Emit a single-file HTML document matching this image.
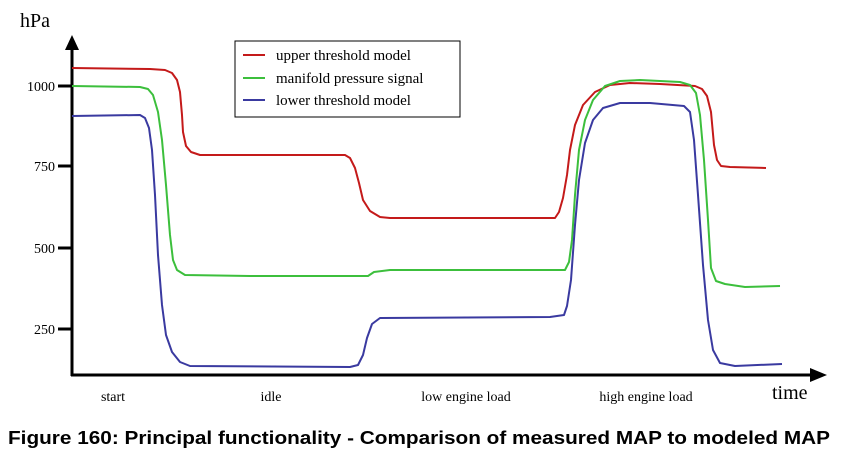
<!DOCTYPE html><html><head><style>body{margin:0;background:#fff}svg{display:block}</style></head><body>
<svg width="844" height="462" xmlns="http://www.w3.org/2000/svg" font-family="Liberation Serif, serif">
<rect width="844" height="462" fill="#fff"/>
<line x1="72" y1="48" x2="72" y2="376" stroke="#000" stroke-width="3"/>
<polygon points="72,35 65,50 79,50" fill="#000"/>
<line x1="71" y1="375" x2="812" y2="375" stroke="#000" stroke-width="3"/>
<polygon points="827,375 810,368 810,382" fill="#000"/>
<g stroke="#000" stroke-width="3"><line x1="58" y1="86" x2="72" y2="86"/><line x1="58" y1="166" x2="72" y2="166"/><line x1="58" y1="248" x2="72" y2="248"/><line x1="58" y1="329" x2="72" y2="329"/></g>
<g font-size="14" text-anchor="end"><text x="55" y="91">1000</text><text x="55" y="171">750</text><text x="55" y="253">500</text><text x="55" y="334">250</text></g>
<text x="20" y="27" font-size="20">hPa</text>
<g fill="none" stroke-width="2" stroke-linejoin="round">
<polyline stroke="#c41a1a" points="72,68 150,69 165,70 172,73 177,80 180,92 182,115 183,132 186,146 191,152 200,155 345,155 350,158 355,168 359,183 363,200 370,211 380,217 390,218 555,218 559,212 563,198 567,175 570,150 575,125 583,105 595,92 610,85 630,83 660,84 695,86 702,89 707,96 711,112 714,145 717,160 721,166 730,167 766,168"/>
<polyline stroke="#3cbf3c" points="72,86 140,87 148,89 153,95 158,112 162,140 166,185 170,235 173,260 177,270 185,275 250,276 368,276 374,272 390,270 565,270 569,262 572,240 575,195 579,150 585,120 593,100 605,86 620,81 640,80 680,82 690,85 696,93 700,115 704,160 708,220 711,268 716,281 725,284 745,287 780,286"/>
<polyline stroke="#3a3aa0" points="72,116 140,115 145,118 149,128 152,150 155,195 158,255 162,305 166,335 172,352 180,362 190,366 350,367 358,365 363,355 367,338 372,324 380,318 550,317 564,315 567,306 571,280 575,225 579,180 585,143 593,120 603,108 620,103 650,103 684,106 690,112 694,140 698,195 703,265 708,320 713,350 720,363 735,366 782,364"/>
</g>
<rect x="235" y="41" width="225" height="76" fill="#fff" stroke="#000" stroke-width="1"/>
<g stroke-width="2"><line x1="243" y1="55" x2="265" y2="55" stroke="#c41a1a"/><line x1="243" y1="78" x2="265" y2="78" stroke="#3cbf3c"/><line x1="243" y1="100" x2="265" y2="100" stroke="#3a3aa0"/></g>
<g font-size="15"><text x="276" y="60">upper threshold model</text><text x="276" y="83">manifold pressure signal</text><text x="276" y="105">lower threshold model</text></g>
<g font-size="14" text-anchor="middle"><text x="113" y="401">start</text><text x="271" y="401">idle</text><text x="466" y="401">low engine load</text><text x="646" y="401">high engine load</text></g>
<text x="772" y="399" font-size="20">time</text>
<text x="8" y="444" font-family="Liberation Sans, sans-serif" font-weight="bold" font-size="18" textLength="822" lengthAdjust="spacingAndGlyphs">Figure 160: Principal functionality - Comparison of measured MAP to modeled MAP</text>
</svg></body></html>
